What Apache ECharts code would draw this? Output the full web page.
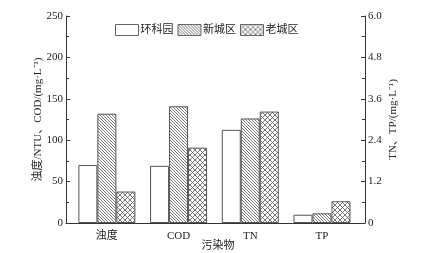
<!DOCTYPE html>
<html>
<head>
<meta charset="utf-8">
<script src="https://cdn.jsdelivr.net/npm/echarts@6/dist/echarts.min.js"></script>
<style>
  html, body { margin: 0; padding: 0; background: #fff; }
  #main { width: 431px; height: 253px; }
</style>
</head>
<body>
<div id="main"></div>
<script>
// 数据
var categories = ['浊度', 'COD', 'TN', 'TP']
var seriesNames = ['环科园', '新城区', '老城区']
// 左轴：浊度/NTU、COD/(mg·L-1)
var leftValues = {
  '环科园': [70, 69],
  '新城区': [132, 141],
  '老城区': [38, 91]
}
// 右轴：TN、TP/(mg·L-1)
var rightValues = {
  '环科园': [2.7, 0.24],
  '新城区': [3.03, 0.28],
  '老城区': [3.23, 0.63]
}

var FONT = '"Liberation Serif", "Noto Sans CJK SC", serif'

function makePattern (type) {
  var c = document.createElement('canvas')
  var s = type === 'cross' ? 5 : 3
  c.width = s
  c.height = s
  var ctx = c.getContext('2d')
  ctx.fillStyle = '#fff'
  ctx.fillRect(0, 0, s, s)
  ctx.strokeStyle = '#555'
  ctx.lineWidth = 0.8
  ctx.beginPath()
  ctx.moveTo(-1, -1); ctx.lineTo(s + 1, s + 1)
  ctx.moveTo(-1, s - 1); ctx.lineTo(1, s + 1)
  ctx.moveTo(s - 1, -1); ctx.lineTo(s + 1, 1)
  if (type === 'cross') {
    ctx.moveTo(-1, s + 1); ctx.lineTo(s + 1, -1)
    ctx.moveTo(-1, 1); ctx.lineTo(1, -1)
    ctx.moveTo(s - 1, s + 1); ctx.lineTo(s + 1, s - 1)
  }
  ctx.stroke()
  return { image: c, repeat: 'repeat' }
}

var fills = {
  '环科园': '#fff',
  '新城区': makePattern('hatch'),
  '老城区': makePattern('cross')
}

var chart = echarts.init(document.getElementById('main'))

var series = []
seriesNames.forEach(function (name) {
  series.push({
    name: name,
    type: 'bar',
    xAxisIndex: 0,
    yAxisIndex: 0,
    barWidth: 19,
    barGap: '0%',
    data: leftValues[name].map(function (v, i) { return [i + 1, v] }),
    itemStyle: { color: fills[name], borderColor: '#555', borderWidth: 1 }
  })
})
seriesNames.forEach(function (name) {
  series.push({
    name: name,
    type: 'bar',
    xAxisIndex: 1,
    yAxisIndex: 1,
    barWidth: 19,
    barGap: '0%',
    data: rightValues[name].map(function (v, i) { return [i + 3, v] }),
    itemStyle: { color: fills[name], borderColor: '#555', borderWidth: 1 }
  })
})

var option = {
  backgroundColor: '#fff',
  animation: false,
  textStyle: { fontFamily: FONT, color: '#222' },
  grid: { left: 66, right: 66, top: 16, bottom: 30, outerBoundsMode: 'none' },
  legend: {
    data: seriesNames,
    left: 110,
    top: 19,
    icon: 'rect',
    itemWidth: 23,
    itemHeight: 11,
    itemGap: 4,
    itemStyle: { borderWidth: 1, borderColor: '#666' },
    textStyle: { fontSize: 11, color: '#222', fontFamily: FONT, padding: [0, 0, 0, -3] }
  },
  xAxis: [
    {
      type: 'value',
      min: 0.43,
      max: 4.6,
      name: '污染物',
      nameLocation: 'middle',
      nameGap: 18,
      nameMoveOverlap: false,
      nameTextStyle: { fontSize: 11, color: '#222', padding: [0, 0, 0, 5] },
      axisLine: { lineStyle: { color: '#333' } },
      axisTick: { show: false },
      splitLine: { show: false },
      axisLabel: {
        customValues: [1, 2, 3, 4],
        formatter: function (v) { return categories[Math.round(v) - 1] },
        fontSize: 11,
        color: '#222',
        margin: 8
      }
    },
    {
      type: 'value',
      min: 0.43,
      max: 4.6,
      show: false
    }
  ],
  yAxis: [
    {
      type: 'value',
      min: 0,
      max: 250,
      interval: 50,
      name: '浊度/NTU、COD/(mg·L⁻¹)',
      nameLocation: 'middle',
      nameGap: 22,
      nameMoveOverlap: false,
      nameTextStyle: { fontSize: 11, color: '#222' },
      axisLine: { show: true, lineStyle: { color: '#333' } },
      axisTick: { show: true, inside: true, length: 4, lineStyle: { color: '#333' } },
      minorTick: { show: true, splitNumber: 2, length: 3, lineStyle: { color: '#333' } },
      splitLine: { show: false },
      axisLabel: { fontSize: 11, color: '#222', margin: 3 }
    },
    {
      type: 'value',
      min: 0,
      max: 6,
      interval: 1.2,
      position: 'right',
      name: 'TN、TP/(mg·L⁻¹)',
      nameLocation: 'middle',
      nameGap: 23,
      nameRotate: 90,
      nameMoveOverlap: false,
      nameTextStyle: { fontSize: 11, color: '#222' },
      axisLine: { show: true, lineStyle: { color: '#333' } },
      axisTick: { show: true, inside: true, length: 4, lineStyle: { color: '#333' } },
      minorTick: { show: true, splitNumber: 2, length: 3, lineStyle: { color: '#333' } },
      splitLine: { show: false },
      axisLabel: {
        fontSize: 11,
        color: '#222',
        margin: 3,
        formatter: function (v) { return v === 0 ? '0' : v.toFixed(1) }
      }
    }
  ],
  series: series
}
chart.setOption(option)
</script>
</body>
</html>
